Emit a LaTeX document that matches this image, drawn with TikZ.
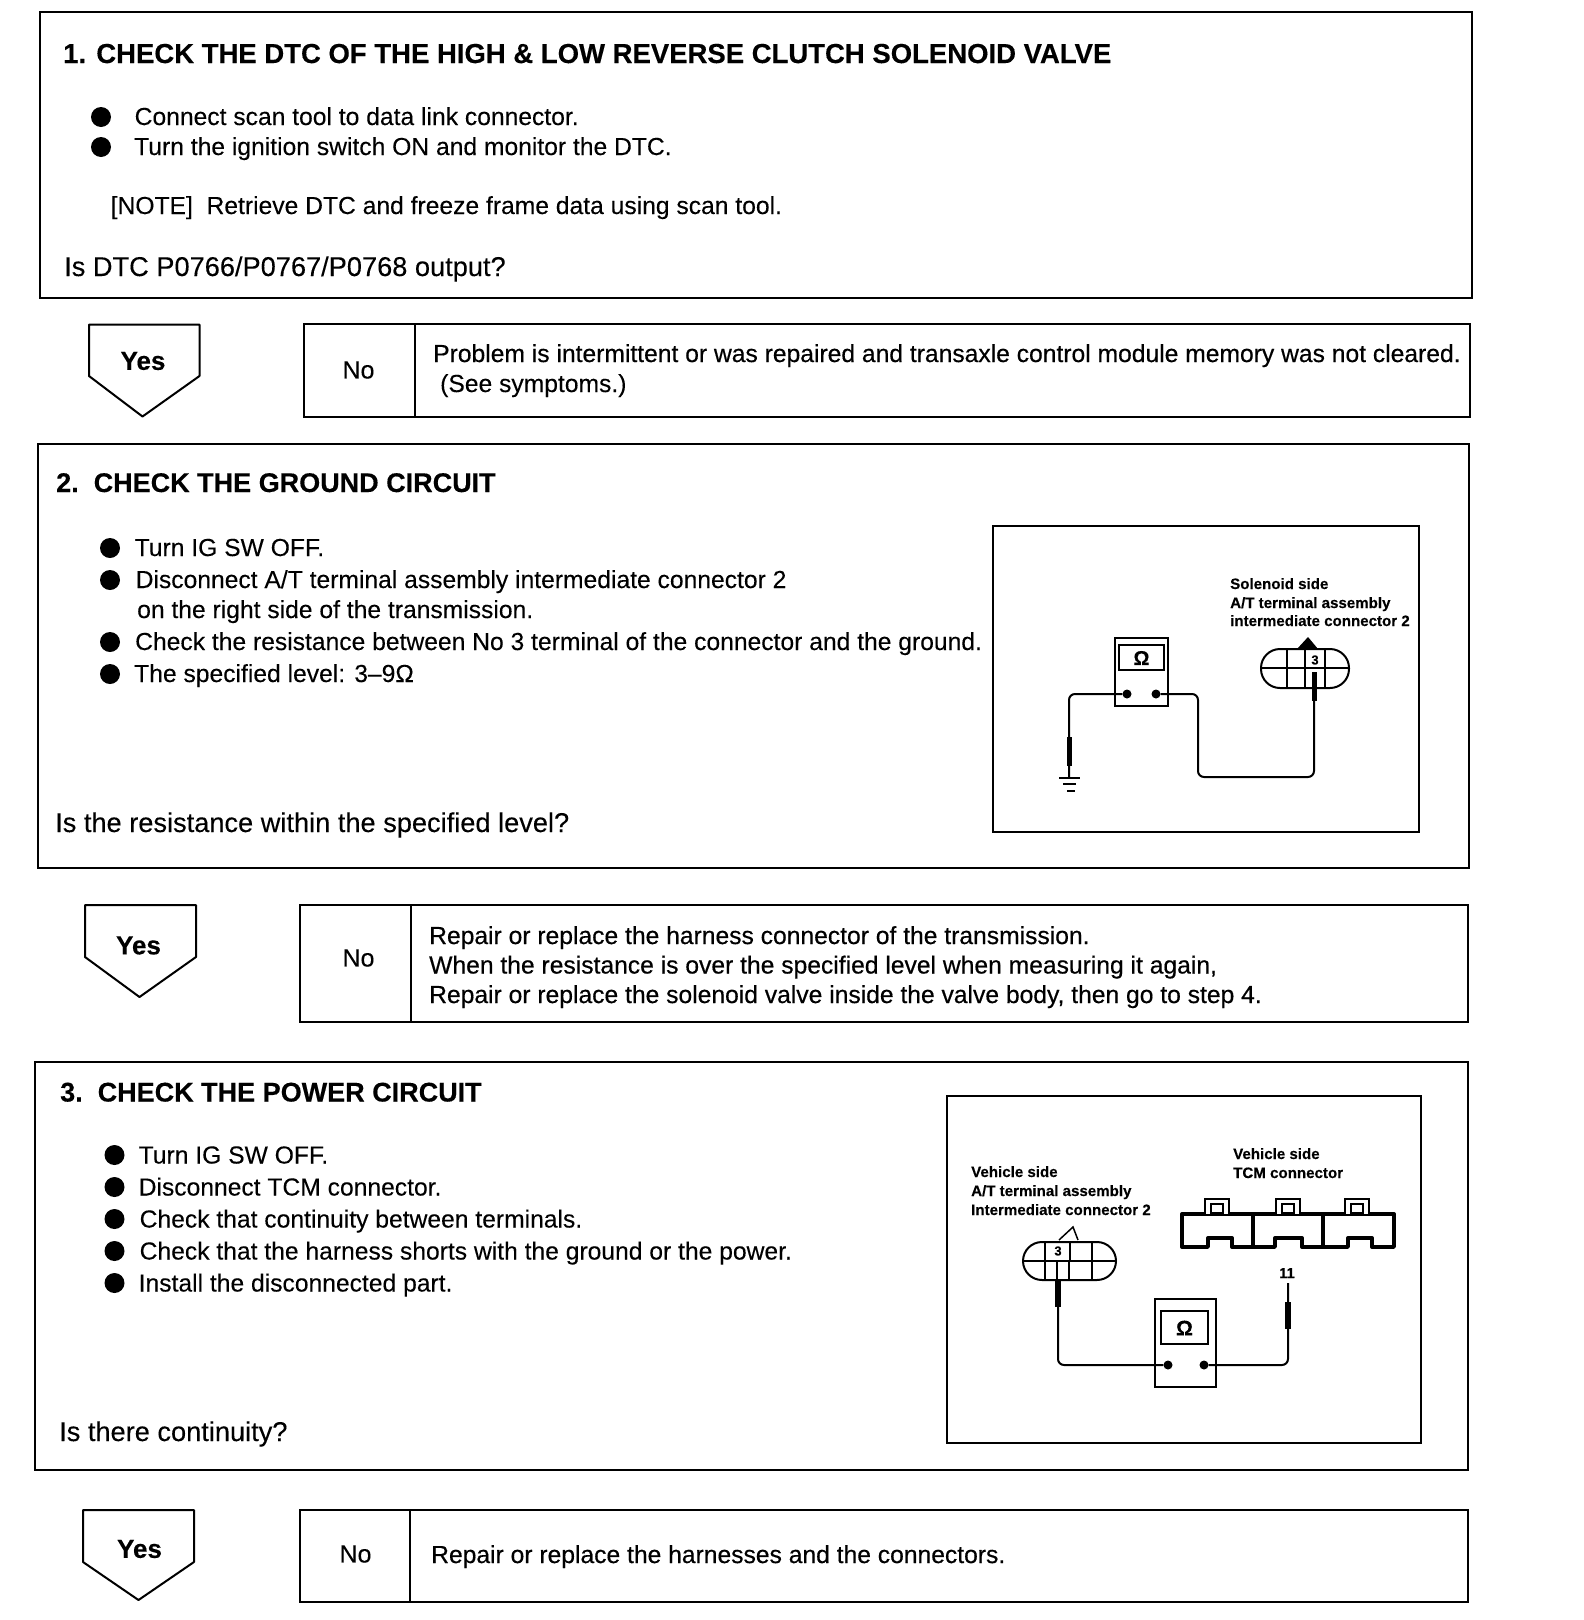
\documentclass[tikz,border=0pt]{standalone}
\usepackage{fontspec}
\setmainfont[FakeBold=0.15,BoldFeatures={FakeBold=0.3}]{Liberation Sans}
\newfontfamily\heavy[FakeBold=0.45]{Liberation Sans}
\tikzset{box/.style={draw,line width=2pt,inner sep=0pt},
         yesbox/.style={draw,line width=2pt,line join=round},
         head/.style={anchor=base west,inner sep=0pt,font=\fontsize{27}{30}\selectfont\bfseries},
         txt/.style={anchor=base west,inner sep=0pt,yshift=1pt,font=\fontsize{24.65}{28}\selectfont},
         txtb/.style={txt,font=\fontsize{24.65}{28}\selectfont\heavy},
         ask/.style={txt,font=\fontsize{27.2}{30}\selectfont},
         ans/.style={inner sep=0pt,font=\fontsize{25}{28}\selectfont},
         yes/.style={inner sep=0pt,font=\fontsize{26}{28}\selectfont\bfseries},
         dot/.style={circle,fill,inner sep=0pt,minimum size=20pt},
         small/.style={anchor=base west,inner sep=0pt,font=\fontsize{15.1}{16}\selectfont\bfseries},
         term/.style={circle,fill,inner sep=0pt,minimum size=9pt},
         wire/.style={line width=2pt,rounded corners=6pt},
         part/.style={line width=2pt},
         probe/.style={line width=5pt}}
\begin{document}
\begin{tikzpicture}[x=1pt,y=-1pt]
\useasboundingbox (0,0) rectangle (1584,1620);
% step 1
\draw[box] (40,11.5) rectangle (1471.5,297.5);
\node[head,font=\fontsize{27.5}{30}\selectfont\bfseries] (t1) at (63,63) {1. CHECK THE DTC OF THE HIGH \& LOW REVERSE CLUTCH SOLENOID VALVE};
\node[dot] (d11) at (101,117) {};
\node[dot] (d12) at (101,147) {};
\node[txt] (a11) at (134.5,126) {Connect scan tool to data link connector.};
\node[txt] (a12) at (134,156) {Turn the ignition switch ON and monitor the DTC.};
\node[txt] (n1) at (110.5,215) {[NOTE]\ \ Retrieve DTC and freeze frame data using scan tool.};
\node[ask] (q1) at (64,277) {Is DTC P0766/P0767/P0768 output?};
\draw[yesbox] (89,324.5) -- (199.5,324.5) -- (199.5,376) -- (142.5,416.5) -- (89,376) -- cycle;
\node[yes] (y1) at (143,361) {Yes};
\draw[box] (304,323.5) rectangle (1470,416.5);
\draw[box] (415,323.5) -- (415,416.5);
\node[ans] (no1) at (358.5,370) {No};
\node[txtb] (r11) at (433,363) {Problem is intermittent or was repaired and transaxle control module memory was not cleared.};
\node[txt] (r12) at (440,393) {(See symptoms.)};
% step 2
\draw[box] (38,444) rectangle (1469,868);
\node[head] (t2) at (56,492) {2.\ \ CHECK THE GROUND CIRCUIT};
\foreach \n/\y in {1/548,2/580,3/642,4/674} \node[dot] (d2\n) at (110,\y) {};
\node[txt] (a21) at (134.5,557) {Turn IG SW OFF.};
\node[txt] (a22) at (135.5,589) {Disconnect A/T terminal assembly intermediate connector 2};
\node[txt] (a23) at (137,619) {on the right side of the transmission.};
\node[txt] (a24) at (135,651) {Check the resistance between No 3 terminal of the connector and the ground.};
\node[txt] (a25) at (134,683) {The specified level: 3--9Ω};
\node[ask] (q2) at (55,833) {Is the resistance within the specified level?};
% figure of step 2
\draw[box] (993,526) rectangle (1419,832);
\node[small] (s1) at (1230,589) {Solenoid side};
\node[small] (s2) at (1230,608) {A/T terminal assembly};
\node[small] (s3) at (1230,626) {intermediate connector 2};
\draw[box] (1115,638) rectangle (1168,706);
\draw[box] (1119,645) rectangle (1164,670);
\node[inner sep=0pt,font=\fontsize{20}{22}\selectfont\bfseries] (om1) at (1141.5,658) {Ω};
\node[term] (p1) at (1127,694) {};
\node[term] (p2) at (1156,694) {};
\draw[box,rounded corners=19pt] (1261,649) rectangle (1349,688);
\draw[part] (1261,668) -- (1349,668) (1287,649) -- (1287,688) (1305,649) -- (1305,688) (1325,649) -- (1325,688);
\fill (1297,649) -- (1308,637) -- (1318,649) -- cycle;
\node[inner sep=0pt,font=\fontsize{13}{14}\selectfont\bfseries] (c1) at (1315,660) {3};
\coordinate (g1) at (1069,778);
\coordinate (e1) at (1314,672);
\draw[wire] (p1) -- (1069,694) -- (g1);
\draw[wire] (p2) -- (1198,694) -- (1198,777) -- (1314,777) -- (e1);
\draw[probe] (1069,737) -- (1069,766);
\draw[probe] (1314,672) -- (1314,701);
\draw[part] (1059,778) -- (1080,778) (1063,784) -- (1076,784) (1067,791) -- (1075,791);
\draw[yesbox] (85,905) -- (196,905) -- (196,957) -- (139.5,997) -- (85,957) -- cycle;
\node[yes] (y2) at (138.5,945.5) {Yes};
\draw[box] (300,905) rectangle (1468,1022);
\draw[box] (411,905) -- (411,1022);
\node[ans] (no2) at (358.5,958) {No};
\node[txtb] (r21) at (429,945) {Repair or replace the harness connector of the transmission.};
\node[txtb] (r22) at (429,974.5) {When the resistance is over the specified level when measuring it again,};
\node[txtb] (r23) at (429,1004) {Repair or replace the solenoid valve inside the valve body, then go to step 4.};
% step 3
\draw[box] (35,1062) rectangle (1468,1470);
\node[head] (t3) at (60,1101.5) {3.\ \ CHECK THE POWER CIRCUIT};
\foreach \n/\y in {1/1155,2/1187,3/1219,4/1251,5/1283} \node[dot] (d3\n) at (114.5,\y) {};
\node[txt] (a31) at (138.5,1164.5) {Turn IG SW OFF.};
\node[txt] (a32) at (138.5,1196.5) {Disconnect TCM connector.};
\node[txt] (a33) at (139.5,1228.5) {Check that continuity between terminals.};
\node[txt] (a34) at (139.5,1260.5) {Check that the harness shorts with the ground or the power.};
\node[txt] (a35) at (138.5,1292.5) {Install the disconnected part.};
\node[ask] (q3) at (59,1442) {Is there continuity?};
% figure of step 3
\draw[box] (947,1096) rectangle (1421,1443);
\node[small] (v1) at (971,1177) {Vehicle side};
\node[small] (v2) at (971,1196) {A/T terminal assembly};
\node[small] (v3) at (971,1215) {Intermediate connector 2};
\node[small] (w1) at (1233,1159) {Vehicle side};
\node[small] (w2) at (1233,1178) {TCM connector};
\draw[line width=3.4pt,line join=round] (1182,1214) -- (1394,1214) -- (1394,1247) -- (1372,1247) -- (1372,1238) -- (1348,1238) -- (1348,1247) -- (1302,1247) -- (1302,1238) -- (1275,1238) -- (1275,1247) -- (1232,1247) -- (1232,1238) -- (1208,1238) -- (1208,1247) -- (1182,1247) -- cycle;
\draw[line width=3.4pt] (1253,1214) -- (1253,1247) (1323,1214) -- (1323,1247);
\foreach \x in {1205,1276,1345} {
  \draw[line width=2.4pt,fill=white] (\x,1214) -- (\x,1199) -- (\x+24,1199) -- (\x+24,1214);
  \draw[part] (\x+6,1204) rectangle (\x+18,1213);
}
\draw[box] (1155,1299) rectangle (1216,1387);
\draw[box] (1161,1311) rectangle (1208,1344);
\node[inner sep=0pt,font=\fontsize{21}{22}\selectfont\bfseries] (om2) at (1184.5,1328) {Ω};
\node[term] (p3) at (1168,1365) {};
\node[term] (p4) at (1204,1365) {};
\draw[box,rounded corners=19pt] (1023,1242) rectangle (1116,1280);
\draw[part] (1023,1261) -- (1116,1261) (1045,1242) -- (1045,1280) (1070,1242) -- (1070,1261) (1092,1242) -- (1092,1280) (1057,1261) -- (1057,1280) (1069,1261) -- (1069,1280);
\draw[line width=1.5pt] (1059,1240) -- (1073,1227) -- (1078,1240);
\node[inner sep=0pt,font=\fontsize{13}{14}\selectfont\bfseries] (c3) at (1058,1251) {3};
\coordinate (e3) at (1058,1280);
\coordinate (e4) at (1288,1283);
\node[inner sep=0pt,font=\fontsize{14.5}{16}\selectfont\bfseries] (n11) at (1287,1273) {11};
\draw[wire] (p3) -- (1058,1365) -- (e3);
\draw[wire] (p4) -- (1288,1365) -- (e4);
\draw[probe,line width=6pt] (1058,1280) -- (1058,1307);
\draw[probe,line width=6pt] (1288,1302) -- (1288,1329);
\draw[yesbox] (83,1510) -- (194,1510) -- (194,1562) -- (138.5,1600) -- (83,1562) -- cycle;
\node[yes] (y3) at (139.5,1549) {Yes};
\draw[box] (300,1510) rectangle (1468,1602);
\draw[box] (410,1510) -- (410,1602);
\node[ans] (no3) at (355.5,1554) {No};
\node[txtb] (r31) at (431,1564) {Repair or replace the harnesses and the connectors.};
\end{tikzpicture}
\end{document}
